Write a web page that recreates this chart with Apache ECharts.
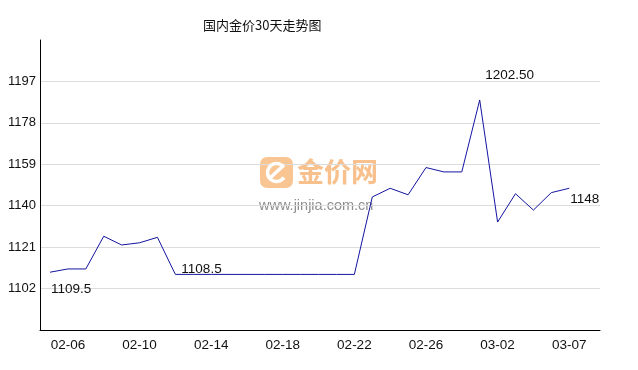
<!DOCTYPE html>
<html>
<head>
<meta charset="utf-8">
<script src="https://cdn.jsdelivr.net/npm/echarts@6/dist/echarts.min.js"></script>
<style>html,body{margin:0;padding:0;background:#fff;}#c{width:638px;height:370px;}</style>
</head>
<body>
<div id="c"></div>
<script>
// ---- data ----
var titleText = '国内金价30天走势图';
var dates = ['02-05','02-06','02-07','02-08','02-09','02-10','02-11','02-12','02-13','02-14',
             '02-15','02-16','02-17','02-18','02-19','02-20','02-21','02-22','02-23','02-24',
             '02-25','02-26','02-27','02-28','03-01','03-02','03-04','03-05','03-06','03-07'];
var prices = [1109.5,1111,1111,1126,1122,1123,1125.5,1108.5,1108.5,1108.5,
              1108.5,1108.5,1108.5,1108.5,1108.5,1108.5,1108.5,1108.5,1144,1148,
              1145,1157.5,1155.5,1155.5,1188.5,1132.5,1145.5,1138,1146,1148];
var xLabelIdx = [1,5,9,13,17,21,25,29];
var yMin = 1083, yMax = 1216, yStep = 19;
var noteIdx = [0, 7, 24, 29];
var noteText = ['1109.5', '1108.5', '1202.50', '1148'];

// ---- styles / positions ----
var notePos = [[1, 17, 'left'], [6, -5, 'left'], [30, -25, 'center'], [1, 11, 'left']];
var font = '"Liberation Sans", Arial, "Noto Sans CJK SC", sans-serif';

var chart = echarts.init(document.getElementById('c'), null, {renderer: 'canvas'});
var seriesData = prices.map(function (v, i) { return [i, v]; });
var marks = noteIdx.map(function (idx, k) {
  var p = notePos[k];
  return {
    coord: [idx, prices[idx]],
    value: noteText[k],
    symbolSize: 0,
    label: {
      show: true, formatter: noteText[k], position: [p[0], p[1]],
      align: p[2], verticalAlign: 'middle', color: '#111', fontSize: 13.5, fontFamily: font
    }
  };
});

chart.setOption({
  animation: false,
  backgroundColor: '#fff',
  title: {
    text: titleText, left: 198, top: 14,
    textStyle: {fontSize: 13, fontWeight: 'normal', color: '#111', fontFamily: '"Noto Sans CJK SC", sans-serif'}
  },
  grid: {left: 40, right: 38, top: 40, bottom: 40, containLabel: false},
  graphic: [
    {type: 'rect', left: 260, top: 157, shape: {width: 33, height: 31, r: 7}, style: {fill: '#f9c592'}, z: 0},
    {type: 'arc', left: 265, top: 161, shape: {cx: 11.5, cy: 11.5, r: 9, startAngle: 0.6, endAngle: 5.5}, style: {stroke: '#fff', lineWidth: 3.5, fill: null}, z: 1},
    {type: 'line', shape: {x1: 270, y1: 178, x2: 284, y2: 165}, style: {stroke: '#fff', lineWidth: 3.5}, z: 1},
    {type: 'text', left: 297, top: 158, style: {text: '金价网', fontSize: 27, fontWeight: 'bold', fill: '#f8c08c', fontFamily: '"Noto Sans CJK SC", sans-serif'}, z: 0},
    {type: 'text', left: 259, top: 199, style: {text: 'www.jinjia.com.cn', fontSize: 14.5, fill: '#8e8e8e', fontFamily: font}, z: 0}
  ],
  xAxis: {
    type: 'value', min: -0.56, max: 30.72,
    axisLine: {show: true, onZero: false, lineStyle: {color: '#000', width: 1}},
    axisTick: {show: false},
    splitLine: {show: false},
    axisLabel: {
      customValues: xLabelIdx, margin: 9, color: '#111', fontSize: 13.5, fontFamily: font,
      formatter: function (v) { return dates[Math.round(v)] || ''; }
    }
  },
  yAxis: {
    type: 'value', min: yMin, max: yMax, interval: yStep,
    axisLine: {show: true, onZero: false, lineStyle: {color: '#000', width: 1}},
    axisTick: {show: false},
    axisLabel: {showMinLabel: false, showMaxLabel: false, margin: 4, color: '#111', fontSize: 13, fontFamily: font,
      formatter: function (v) { return String(v); }},
    splitLine: {show: true, showMinLine: false, showMaxLine: false, lineStyle: {color: '#dcdcdc', width: 1}}
  },
  series: [{
    type: 'line', data: seriesData, symbol: 'none', z: 5,
    lineStyle: {color: '#1414a0', width: 1},
    markPoint: {symbol: 'circle', symbolSize: 0, data: marks, animation: false}
  }]
});
</script>
</body>
</html>
